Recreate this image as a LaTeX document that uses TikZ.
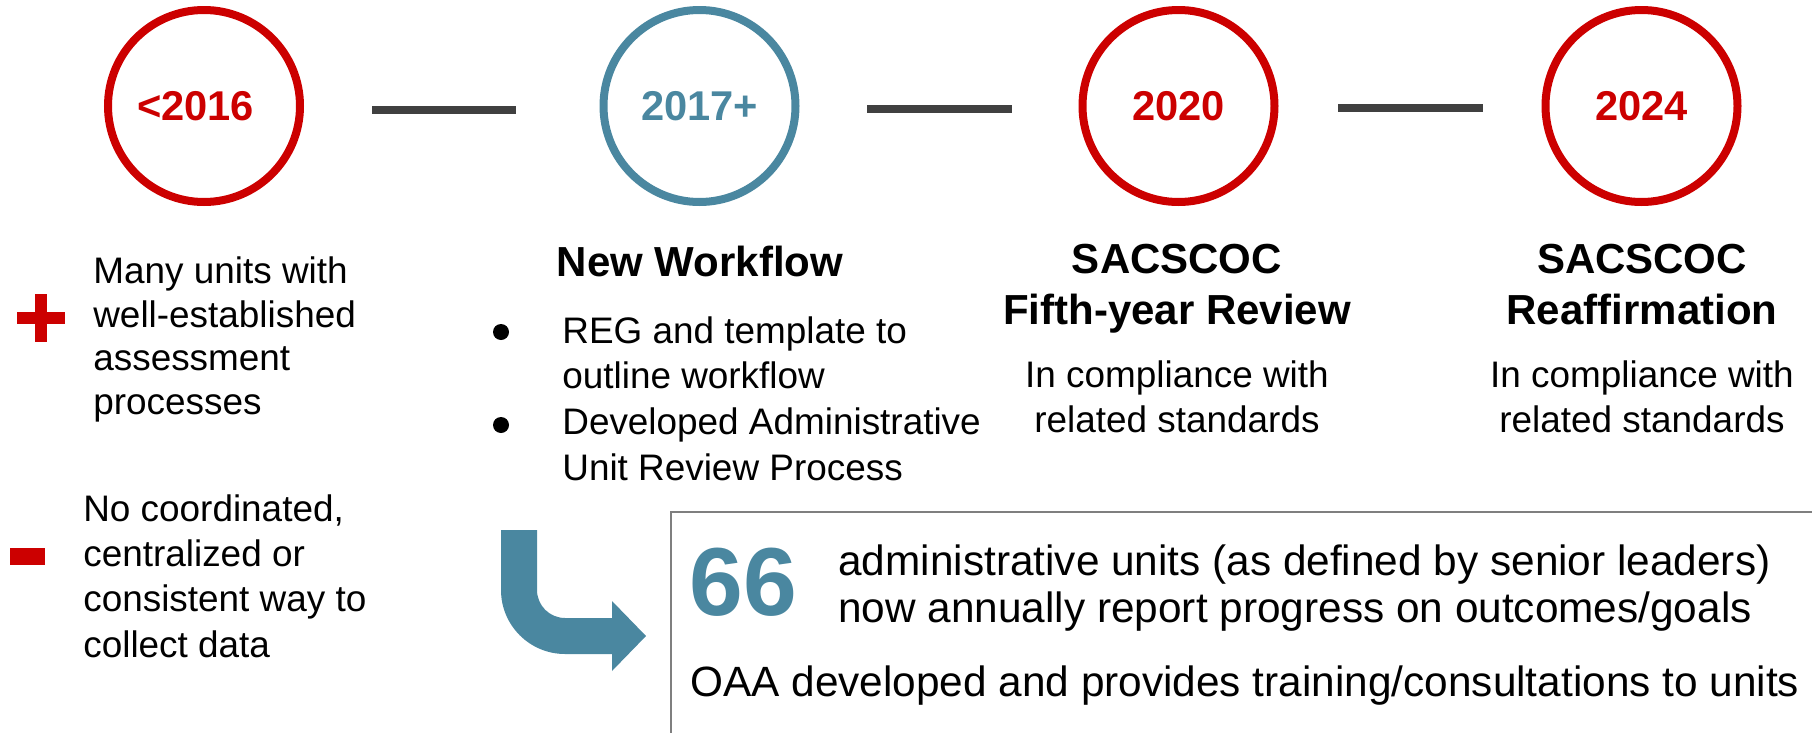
\documentclass[tikz,border=0pt]{standalone}
\usepackage{fontspec}
\setmainfont{Liberation Sans}
\usepackage{tikz}
\usetikzlibrary{positioning}
\definecolor{oaared}{HTML}{CC0000}
\definecolor{oaateal}{HTML}{4A87A0}
\definecolor{linegray}{HTML}{404040}
\definecolor{boxgray}{HTML}{7F7F7F}
\tikzset{
    yearcirc/.style={circle, draw, line width=0.16cm, minimum size=3.84cm, inner sep=0pt,
        font=\bfseries\fontsize{23.7}{28}\selectfont},
    redyear/.style={yearcirc, draw=oaared, text=oaared},
    tealyear/.style={yearcirc, draw=oaateal, text=oaateal},
    link/.style={draw=linegray, line width=0.16cm},
    body/.style={inner sep=0pt, font=\fontsize{21}{25.8}\selectfont},
    head/.style={inner sep=0pt, font=\bfseries\fontsize{23.9}{29}\selectfont},
    boxtxt/.style={inner sep=0pt, font=\fontsize{24.1}{26.8}\selectfont},
    bignum/.style={inner sep=0pt, text=oaateal, font=\bfseries\fontsize{55}{60}\selectfont}
}

\begin{document}
\begin{tikzpicture}
    \useasboundingbox (0,0) rectangle (36.24,-14.66);

    % timeline
    \node[redyear] (y2016) at (4.08,-2.12) {<2016\kern0.34cm};
    \node[tealyear] (y2017) at (13.99,-2.12) {2017+};
    \node[redyear] (y2020) at (23.57,-2.12) {2020};
    \node[redyear] (y2024) at (32.83,-2.12) {2024};

    \draw[link, shorten <=1.36cm, shorten >=1.67cm] ([yshift=-0.08cm]y2016.east) -- ([yshift=-0.08cm]y2017.west);
    \draw[link, shorten <=1.35cm, shorten >=1.33cm] ([yshift=-0.06cm]y2017.east) -- ([yshift=-0.06cm]y2020.west);
    \draw[link, shorten <=1.19cm, shorten >=1.17cm] ([yshift=-0.04cm]y2020.east) -- ([yshift=-0.04cm]y2024.west);

    % before 2016
    \fill[oaared] (0.34,-6.24) rectangle (1.30,-6.48);
    \fill[oaared] (0.70,-5.88) rectangle (0.94,-6.84);
    \node[body, font=\fontsize{21}{25}\selectfont, anchor=north west, align=left] (pros) at (1.86,-5.12)
        {Many units with\\well-established\\assessment\\processes};
    \fill[oaared] (0.20,-10.96) rectangle (0.90,-11.30);
    \node[body, anchor=north west, align=left] (cons) at (1.66,-9.88)
        {No coordinated,\\centralized or\\consistent way to\\collect data};

    % 2017+
    \node[head] (wfhead) at (14.00,-5.22) {New Workflow};
    \fill (10.02,-6.64) circle (0.16);
    \fill (10.02,-8.50) circle (0.16);
    \node[body, font=\fontsize{21}{26}\selectfont, anchor=north west, align=left] (wflist) at (11.24,-6.32)
        {REG and template to\\outline workflow\\Developed Administrative\\Unit Review Process};

    % 2020 and 2024
    \node[head, anchor=north, align=center] (fifth) at (23.54,-4.88) {SACSCOC\\Fifth-year Review};
    \node[body, anchor=north, align=center] (fifthtxt) at (23.54,-7.20) {In compliance with\\related standards};
    \node[head, anchor=north, align=center] (reaf) at (32.84,-4.88) {SACSCOC\\Reaffirmation};
    \node[body, anchor=north, align=center] (reaftxt) at (32.84,-7.20) {In compliance with\\related standards};

    % bent arrow
    \fill[oaateal] (10.02,-10.60) -- (10.02,-11.80) arc (180:270:1.28) -- (12.24,-13.08)
        -- (12.24,-13.42) -- (12.92,-12.72) -- (12.24,-12.02) -- (12.24,-12.36)
        -- (11.30,-12.36) arc (270:180:0.56) -- (10.74,-10.60) -- cycle;

    % result box
    \draw[boxgray, line width=0.04cm] (13.42,-14.66) |- (36.24,-10.24);
    \node[bignum, anchor=west] (count) at (13.78,-11.64) {66};
    \node[boxtxt, anchor=north west, align=left] (units) at (16.76,-10.88)
        {administrative units (as defined by senior leaders)\\now annually report progress on outcomes/goals};
    \node[boxtxt, anchor=north west] (oaa) at (13.80,-13.30)
        {OAA developed and provides training/consultations to units};
\end{tikzpicture}
\end{document}
